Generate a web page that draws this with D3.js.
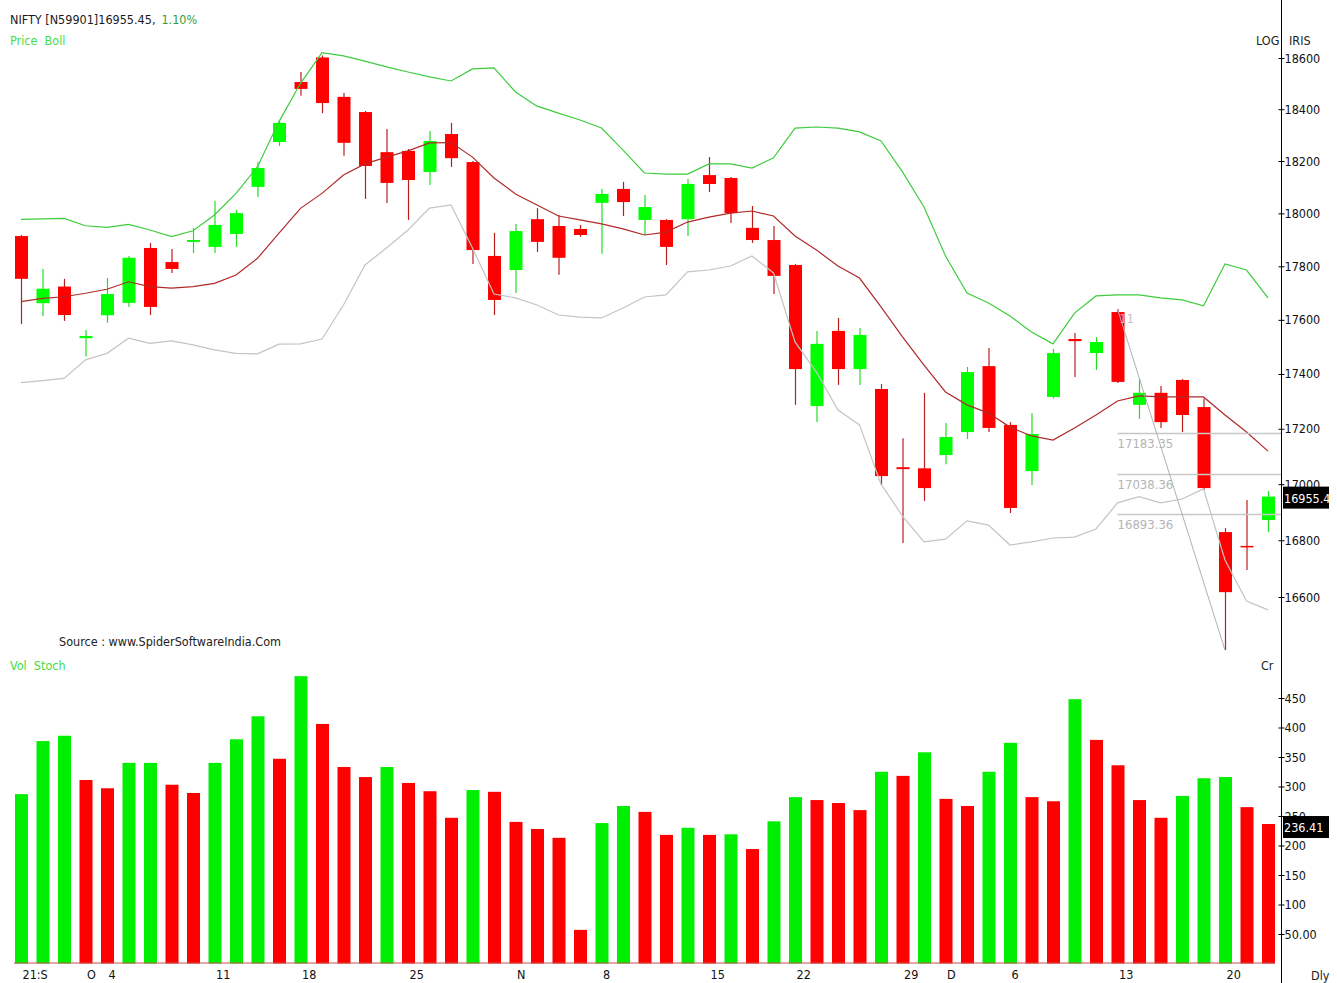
<!DOCTYPE html>
<html>
<head>
<meta charset="utf-8">
<script src="https://cdn.jsdelivr.net/npm/d3@7"></script>
<style>
  body { margin: 0; background: #fff; }
  svg text { font-family: "DejaVu Sans Condensed", "DejaVu Sans", sans-serif; font-stretch: condensed; }
</style>
</head>
<body>
<div id="chart"></div>
<script>
// Trading days, Sep 28 - Dec 22 2021
const dates = [
  "2021-09-28","2021-09-29","2021-09-30","2021-10-01","2021-10-04","2021-10-05","2021-10-06","2021-10-07","2021-10-08",
  "2021-10-11","2021-10-12","2021-10-13","2021-10-14","2021-10-18","2021-10-19","2021-10-20","2021-10-21","2021-10-22",
  "2021-10-25","2021-10-26","2021-10-27","2021-10-28","2021-10-29","2021-11-01","2021-11-02","2021-11-03","2021-11-04",
  "2021-11-08","2021-11-09","2021-11-10","2021-11-11","2021-11-12","2021-11-15","2021-11-16","2021-11-17","2021-11-18",
  "2021-11-22","2021-11-23","2021-11-24","2021-11-25","2021-11-26","2021-11-29","2021-11-30","2021-12-01","2021-12-02",
  "2021-12-03","2021-12-06","2021-12-07","2021-12-08","2021-12-09","2021-12-10","2021-12-13","2021-12-14","2021-12-15",
  "2021-12-16","2021-12-17","2021-12-20","2021-12-21","2021-12-22"
];

const open = [17914,17662,17724,17532,17617,17663,17869,17816,17892,17873,17922,18101,18273,18506,18602,18448,18389,18234,
  18239,18158,18304,18196,17839,17786,17978,17952,17941,18040,18093,17975,17975,17978,18146,18135,17945,17899,17805,17283,
  17559,17418,17345,17061,17057,17105,17188,17429,17214,17047,17316,17529,17477,17629,17287,17331,17378,17279,16829,16780,16872];
const high = [17918,17790,17753,17562,17756,17839,17888,17865,17945,18048,18013,18196,18358,18545,18610,18463,18393,18323,
  18246,18316,18347,18200,17926,17960,18020,17994,17956,18093,18120,18070,17978,18131,18215,18139,18028,17952,17809,17559,
  17607,17570,17363,17166,17331,17221,17426,17496,17224,17257,17492,17551,17536,17640,17382,17356,17382,17309,16843,16943,16975];
const low = [17584,17614,17596,17464,17589,17648,17618,17775,17850,17850,17873,18062,18258,18452,18385,18220,18055,18039,
  17975,18108,18177,17809,17618,17700,17854,17768,17911,17847,17990,17918,17805,17914,18081,17963,17888,17696,17287,17225,
  17360,17360,16997,16790,16940,17072,17163,17188,16897,16997,17310,17389,17415,17367,17236,17203,17188,16979,16415,16695,16829];
const close = [17753,17716,17618,17540,17696,17832,17648,17790,17899,17956,18001,18173,18347,18479,18424,18270,18181,18116,
  18127,18277,18211,17861,17674,17933,17892,17832,17918,18074,18043,18024,17873,18112,18112,18001,17899,17764,17418,17511,
  17418,17544,17029,17054,16986,17170,17407,17203,16915,17181,17477,17521,17518,17371,17331,17224,17250,16986,16617,16776,16955.45];

// Bollinger bands
const bollUpper = [17977,17979,17981,17953,17947,17958,17937,17912,17934,17994,18076,18178,18352,18501,18621,18608,18588,18565,
  18545,18526,18510,18557,18561,18467,18412,18385,18358,18327,18242,18154,18150,18150,18189,18189,18173,18212,18327,18331,
  18327,18312,18277,18158,18024,17839,17700,17663,17614,17555,17511,17625,17689,17693,17693,17682,17674,17652,17809,17786,17682];
const bollMid = [17668,17680,17686,17699,17714,17742,17724,17718,17724,17736,17767,17830,17925,18019,18076,18146,18189,18215,
  18239,18270,18271,18215,18135,18074,18032,17990,17975,17960,17941,17918,17929,17967,17986,18001,18009,17990,17914,17861,
  17801,17756,17648,17537,17433,17334,17287,17257,17206,17174,17159,17203,17250,17301,17320,17316,17316,17316,17250,17188,17119];
const bollLower = [17368,17376,17384,17452,17476,17532,17513,17522,17507,17489,17476,17474,17510,17511,17529,17655,17805,17869,
  17937,18020,18032,17869,17696,17682,17655,17618,17610,17607,17644,17685,17693,17779,17786,17801,17839,17775,17518,17407,
  17268,17214,17000,16886,16794,16804,16869,16854,16783,16794,16808,16811,16840,16933,16955,16933,16947,16983,16730,16586,16555];

// Volume (Cr) and bar colour flag (1 = green)
const volume = [287,377,386,311,297,340,340,303,289,340,380,419,347,487,406,333,316,333,306,292,247,294,291,240,228,213,57,
  238,267,257,218,230,218,219,194,241,282,277,272,260,325,318,358,279,267,325,374,282,275,448,379,336,277,247,284,314,316,265,236.41];
const volUp = [1,1,1,0,0,1,1,0,0,1,1,1,0,1,0,0,0,1,0,0,0,1,0,0,0,0,0,1,1,0,0,1,0,1,0,1,1,0,0,0,1,0,1,0,0,1,1,0,0,1,0,0,0,0,1,1,1,0,0];

const priceTicks = [16600,16800,17000,17200,17400,17600,17800,18000,18200,18400,18600];
const volTicks = [50,100,150,200,250,300,350,400,450];
const xLabels = [
  ["2021-09-28","21:S"],["2021-10-01","O"],["2021-10-04","4"],["2021-10-11","11"],["2021-10-18","18"],
  ["2021-10-25","25"],["2021-11-01","N"],["2021-11-08","8"],["2021-11-15","15"],["2021-11-22","22"],
  ["2021-11-29","29"],["2021-12-01","D"],["2021-12-06","6"],["2021-12-13","13"],["2021-12-20","20"]
];
const fibLevels = [17183.35, 17038.36, 16893.36];

const W = 1337, H = 983;
const axisX = 1281;
const FS = 12.5;
const GREEN = "#00ff00", RED = "#ff0000";

const svg = d3.select("#chart").append("svg")
  .attr("width", W).attr("height", H)
  .style("display", "block");

const x = d3.scalePoint().domain(dates).range([21, 1268]);
const y = d3.scaleLog().domain([16600, 18600]).range([597, 58]);
const yv = d3.scaleLinear().domain([0, 450]).range([963.5, 698]);

const data = dates.map((d, i) => ({
  date: d, o: open[i], h: high[i], l: low[i], c: close[i],
  up: close[i] >= open[i], v: volume[i], vUp: volUp[i]
}));

// Right axis line
svg.append("line")
  .attr("x1", axisX + 0.5).attr("x2", axisX + 0.5)
  .attr("y1", 0).attr("y2", H)
  .attr("stroke", "#000").attr("stroke-width", 1);

// Price axis
const pAxis = svg.append("g")
  .attr("transform", `translate(${axisX + 0.5},0)`)
  .call(d3.axisRight(y).tickValues(priceTicks).tickSize(3).tickPadding(0).tickFormat(d3.format("d")));
pAxis.select(".domain").remove();
pAxis.selectAll(".tick").append("line").attr("x1", -3).attr("x2", 0).attr("stroke", "#000");
pAxis.selectAll("text").attr("font-size", FS).attr("fill", "#111");

// Volume axis
const vAxis = svg.append("g")
  .attr("transform", `translate(${axisX + 0.5},0)`)
  .call(d3.axisRight(yv).tickValues(volTicks).tickSize(3).tickPadding(0)
    .tickFormat(d => d === 50 ? "50.00" : d));
vAxis.select(".domain").remove();
vAxis.selectAll(".tick").append("line").attr("x1", -3).attr("x2", 0).attr("stroke", "#000");
vAxis.selectAll("text").attr("font-size", FS).attr("fill", "#111");

// Bottom date labels
const xAxis = svg.append("g")
  .attr("transform", "translate(0,966)")
  .call(d3.axisBottom(x).tickValues(xLabels.map(d => d[0])).tickSize(0).tickPadding(4)
    .tickFormat(d => xLabels.find(l => l[0] === d)[1]));
xAxis.select(".domain").remove();
xAxis.selectAll("text").attr("font-size", FS).attr("fill", "#111")
  .attr("text-anchor", "start").attr("dx", 1);

// Candles
const candles = svg.append("g");
candles.selectAll("line.wick").data(data).join("line")
  .attr("class", "wick")
  .attr("x1", d => x(d.date) + 0.5).attr("x2", d => x(d.date) + 0.5)
  .attr("y1", d => y(d.h)).attr("y2", d => y(d.l))
  .attr("stroke", d => d.up ? "#22dd22" : "#b8201e").attr("stroke-width", 1.2);
candles.selectAll("rect").data(data).join("rect")
  .attr("x", d => x(d.date) - 6)
  .attr("width", 13)
  .attr("y", d => y(Math.max(d.o, d.c)))
  .attr("height", d => Math.max(1.5, Math.abs(y(d.o) - y(d.c))))
  .attr("fill", d => d.up ? GREEN : RED);

// Volume bars
svg.append("g").selectAll("rect").data(data).join("rect")
  .attr("x", d => x(d.date) - 6)
  .attr("width", 13)
  .attr("y", d => yv(d.v))
  .attr("height", d => yv(0) - yv(d.v))
  .attr("fill", d => d.vUp ? "#00ee00" : RED);

// Vol stoch base line
svg.append("line")
  .attr("x1", x(dates[0]) - 7).attr("x2", x(dates[dates.length - 1]) + 7)
  .attr("y1", yv(0) - 0.5).attr("y2", yv(0) - 0.5)
  .attr("stroke", "#c05050").attr("stroke-width", 1);

// Bollinger bands
const bandLine = arr => d3.line().x((d, i) => x(dates[i])).y(d => y(d))(arr);
svg.append("path").attr("d", bandLine(bollLower)).attr("fill", "none").attr("stroke", "#c4c4c4").attr("stroke-width", 1.2);
svg.append("path").attr("d", bandLine(bollMid)).attr("fill", "none").attr("stroke", "#b02a2a").attr("stroke-width", 1.2);
svg.append("path").attr("d", bandLine(bollUpper)).attr("fill", "none").attr("stroke", "#3ecc3e").attr("stroke-width", 1.2);

// Retracement levels
const fibStart = x(dates[51]);
fibLevels.forEach(v => {
  svg.append("line")
    .attr("x1", fibStart).attr("x2", axisX)
    .attr("y1", Math.round(y(v)) + 0.5).attr("y2", Math.round(y(v)) + 0.5)
    .attr("stroke", "#c8c8c8").attr("stroke-width", 1.5);
  svg.append("text")
    .attr("x", fibStart).attr("y", y(v) + 15)
    .attr("font-size", FS + 0.5).attr("fill", "#b4b4b4")
    .text(v.toFixed(2));
});

// Trend line from Dec 13 high to Dec 20 low
svg.append("line")
  .attr("x1", x(dates[51])).attr("y1", y(high[51]))
  .attr("x2", x(dates[56])).attr("y2", y(low[56]))
  .attr("stroke", "#b0b0b0").attr("stroke-width", 1);
svg.append("text").attr("x", x(dates[51]) + 2).attr("y", y(high[51]) + 14)
  .attr("font-size", FS).attr("fill", "#c0c0c0").text("11");

// Last value boxes
function valueBox(yy, label) {
  svg.append("rect").attr("x", axisX + 2).attr("y", yy - 11).attr("width", 46).attr("height", 22).attr("fill", "#000");
  svg.append("text").attr("x", axisX + 3).attr("y", yy + 5).attr("font-size", FS).attr("fill", "#fff").text(label);
}
valueBox(y(close[close.length - 1]) + 1, "16955.4");
valueBox(yv(volume[volume.length - 1]) + 3, "236.41");

// Header texts
const t1 = svg.append("text").attr("x", 10).attr("y", 24).attr("font-size", FS);
t1.append("tspan").attr("fill", "#1a1a1a").text("NIFTY [N59901]16955.45,");
t1.append("tspan").attr("fill", "#3a9a3a").attr("dx", 6).text("1.10%");
svg.append("text").attr("x", 10).attr("y", 45).attr("font-size", FS).attr("fill", "#44dd44")
  .attr("xml:space", "preserve").text("Price  Boll");
svg.append("text").attr("x", 59).attr("y", 646).attr("font-size", FS).attr("fill", "#222")
  .text("Source : www.SpiderSoftwareIndia.Com");
svg.append("text").attr("x", 10).attr("y", 670).attr("font-size", FS).attr("fill", "#44dd44")
  .attr("xml:space", "preserve").text("Vol  Stoch");
svg.append("text").attr("x", 1261).attr("y", 670).attr("font-size", FS).attr("fill", "#222").text("Cr");
svg.append("text").attr("x", 1256).attr("y", 45).attr("font-size", FS).attr("fill", "#222").text("LOG");
svg.append("text").attr("x", 1289).attr("y", 45).attr("font-size", FS).attr("fill", "#222").text("IRIS");
svg.append("text").attr("x", 1311).attr("y", 980).attr("font-size", FS).attr("fill", "#222").text("Dly");
</script>
</body>
</html>
